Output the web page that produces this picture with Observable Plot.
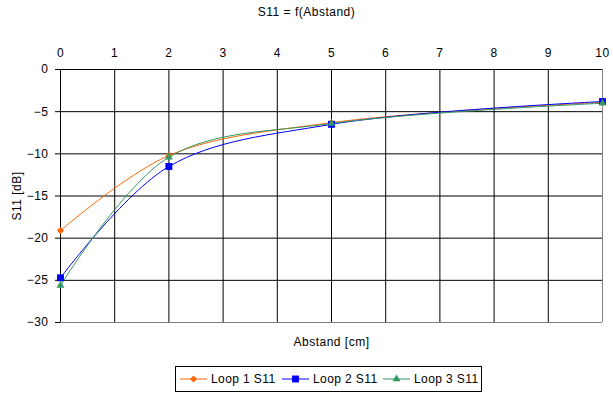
<!DOCTYPE html>
<html><head><meta charset="utf-8">
<script src="https://cdn.jsdelivr.net/npm/d3@7"></script>
<script src="https://cdn.jsdelivr.net/npm/@observablehq/plot@0.6"></script>
<style>
body{margin:0;background:#fff;font-family:"Liberation Sans",Arial,sans-serif;color:#000;}
#wrap{position:relative;width:613px;height:395px;overflow:hidden;}
#title{height:24px;line-height:24px;text-align:center;font-size:12px;letter-spacing:0.5px;}
#chart svg{display:block;}
#legend{position:absolute;left:175px;top:366px;width:307px;height:26px;border:1px solid #000;box-sizing:border-box;font-size:12px;letter-spacing:0.4px;}
.item{position:absolute;top:0;height:24px;display:flex;align-items:center;white-space:nowrap;}
.item svg{display:block;margin-right:4px;}
</style></head>
<body><div id="wrap"><div id="title">S11 = f(Abstand)</div><div id="chart"></div><div id="legend"></div></div>
<script>
const abstand = [0, 2, 5, 10];
const loop1 = [-19.1, -10.2, -6.3, -3.9];
const loop2 = [-24.7, -11.5, -6.5, -3.8];
const loop3 = [-25.6, -10.4, -6.4, -4.0];
const seriesNames = ["Loop 1 S11", "Loop 2 S11", "Loop 3 S11"];
const colors = ["#FF6600", "#0000FF", "#339966"];
const symbols = ["diamond2", "square2", "triangle2"];
const xTicks = [0, 1, 2, 3, 4, 5, 6, 7, 8, 9, 10];
const yTicks = [-30, -25, -20, -15, -10, -5, 0];
const xLabel = "Abstand [cm]";
const yLabel = "S11 [dB]";

const seriesValues = [loop1, loop2, loop3];
const data = [];
seriesValues.forEach((vals, i) => vals.forEach((v, j) => data.push({series: seriesNames[i], x: abstand[j], y: v})));

const dotR = [3.2, 4.4, 3.8];
const dotMarks = seriesNames.map((s, i) =>
  Plot.dot(data.filter(d => d.series === s), {x: "x", y: "y", symbol: () => symbols[i], fill: colors[i], stroke: "none", r: dotR[i]})
);

const plot = Plot.plot({
  width: 613, height: 340,
  marginTop: 45, marginLeft: 60, marginRight: 11, marginBottom: 42,
  style: {fontFamily: '"Liberation Sans", Arial, sans-serif', fontSize: "12px", color: "#000", background: "#fff", overflow: "visible", letterSpacing: "0.5px"},
  x: {domain: [0, 10]},
  y: {domain: [-30, 0]},
  symbol: {type: "identity"},
  marks: [
    Plot.gridX(xTicks.filter(t => t > 0 && t < 10), {stroke: "#000", strokeOpacity: 1}),
    Plot.gridY(yTicks.filter(t => t > -30 && t < 0), {stroke: "#000", strokeOpacity: 1}),
    Plot.ruleX([10], {stroke: "#808080"}),
    Plot.ruleY([-30], {stroke: "#808080"}),
    Plot.ruleX([0], {stroke: "#000"}),
    Plot.ruleY([0], {stroke: "#000"}),
    Plot.axisX(xTicks, {anchor: "top", tickSize: 0, tickPadding: 13, label: null, fontSize: 12}),
    Plot.axisY(yTicks, {anchor: "left", tickSize: 5, tickPadding: 7, stroke: "#000", label: yLabel, labelAnchor: "center", labelOffset: 48, labelArrow: "none", fontSize: 12}),
    ...seriesNames.map((s, i) =>
      Plot.line(data.filter(d => d.series === s), {x: "x", y: "y", stroke: colors[i], strokeWidth: 1, curve: "catmull-rom"})
    ),
    ...dotMarks,
    Plot.text([xLabel], {frameAnchor: "bottom", dy: 23, text: d => d, fontSize: 12, fill: "#000"})
  ]
});
document.getElementById("chart").appendChild(plot);

// legend
const legend = document.getElementById("legend");
const itemLeft = [4, 106, 207];
seriesNames.forEach((s, i) => {
  const item = document.createElement("div");
  item.className = "item";
  item.style.left = itemLeft[i] + "px";
  const sym = {diamond2: d3.symbolDiamond2, square2: d3.symbolSquare2, triangle2: d3.symbolTriangle2}[symbols[i]];
  const path = d3.symbol(sym, Math.PI * dotR[i] * dotR[i])();
  item.innerHTML = `<svg width="27" height="12"><line x1="0" x2="27" y1="6" y2="6" stroke="${colors[i]}" stroke-width="1"/><path transform="translate(13.5,6)" d="${path}" fill="${colors[i]}"/></svg><span>${s}</span>`;
  legend.appendChild(item);
});
</script>
</body></html>
